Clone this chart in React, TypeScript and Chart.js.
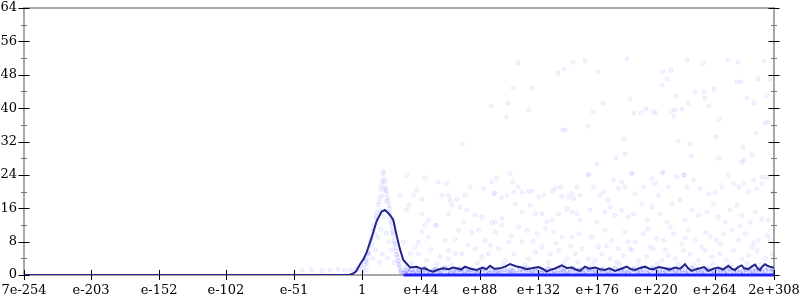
import { useEffect, useRef } from "react";
import { Chart, registerables } from "chart.js";

Chart.register(...registerables);

// x axis is log10 of the value: 7e-254 .. 2e+308
const X_MIN = -253.155;
const X_MAX = 308.301;
const xTickValues = [X_MIN, -203, -152, -102, -51, 0, 44, 88, 132, 176, 220, 264, X_MAX];
const xTickLabels = ["7e-254", "e-203", "e-152", "e-102", "e-51", "1", "e+44", "e+88", "e+132", "e+176", "e+220", "e+264", "2e+308"];
const Y_MAX = 64;
const Y_STEP = 8;

// dark mean line
const meanX = [X_MIN, -10, -7, -4.5, -1.6, 1, 3.4, 7.1, 10.9, 14.6, 17.1, 20.8, 23.3, 25.8, 28.3, 30.8, 35.8, 40.8, 44, 47, 50, 53, 57, 60.5, 65, 68, 70.8, 74, 77, 81, 85.7, 90, 93, 95.7, 99, 103.2, 107, 110.7, 115, 119.4, 123, 126.9, 132, 135, 138.1, 141, 144, 149.4, 153, 156.9, 160, 163.1, 166.8, 170, 174.3, 178, 181.8, 185, 189.3, 194, 198, 201, 204.3, 208, 211.7, 215, 218, 222, 226.7, 230, 234.2, 238, 241.7, 244, 246.7, 250, 252.9, 256, 259.1, 263, 266.6, 270, 274.1, 276.5, 279.1, 281.5, 284.1, 286, 289.1, 291.5, 294.1, 296, 297.8, 299.5, 301.6, 303.5, 305.3, 308.3];
const meanY = [0, 0, 0.3, 0.9, 2.6, 3.8, 5.5, 9.0, 13.0, 15.2, 15.6, 14.4, 13.2, 9.5, 6.2, 3.6, 1.8, 2.0, 1.5, 1.6, 1.1, 0.8, 1.3, 1.6, 1.4, 1.8, 1.6, 1.3, 2.0, 1.5, 1.2, 1.7, 1.4, 2.2, 1.5, 1.6, 2.0, 2.6, 2.1, 1.8, 1.4, 1.6, 1.9, 1.5, 0.8, 1.3, 1.5, 2.3, 1.7, 1.8, 1.3, 1.0, 2.0, 1.5, 1.8, 1.4, 1.2, 1.6, 1.0, 1.5, 2.0, 1.4, 1.2, 1.7, 2.0, 1.5, 1.4, 1.9, 1.6, 1.3, 1.8, 1.5, 2.6, 1.6, 1.0, 1.4, 1.6, 1.9, 1.0, 1.5, 1.8, 1.3, 2.2, 1.5, 1.2, 1.9, 2.3, 1.6, 1.4, 2.0, 2.5, 1.6, 1.2, 2.0, 2.6, 2.2, 2.0, 1.7];

// run of samples that are exactly zero
const zeroRunX = [31, 308.3];

// faint samples: [log10 value, count]
const peakPoints: [number, number][] = [
  [0, 0.5], [1, 1.5], [2, 2.5], [3, 3.8], [4, 5], [5, 6.5], [6, 7.8], [7, 9], [8, 10.5], [9, 12], [10, 13.5], [11, 15], [12, 16.8], [13, 18.5], [14, 20.5], [15, 22.5], [15.6, 24.2],
  [16.5, 23], [17.5, 21], [18.5, 19.5], [19.5, 17.6], [20.5, 15.8], [21.5, 13.5], [22.5, 11.5], [23.5, 9.5], [24.5, 7.5], [25.5, 5.8], [26.5, 4.2], [27.5, 2.6], [28.5, 1.4], [29.5, 0.6],
  [2.5, 3.2], [4.5, 5.5], [6.5, 8.5], [8.5, 11], [10.5, 14], [12.5, 17.5], [14.5, 21.5], [16, 24.8], [17, 22.3], [18, 20.2], [19, 18.5], [20, 16.6], [21, 14.6], [22, 12.4], [23, 10.4], [24, 8.3], [25, 6.5], [26, 5], [27, 3.3], [28, 2], [29, 1],
  [3.5, 2.6], [5.5, 5], [7.5, 7.2], [9.5, 9.8], [11.5, 12.6], [13.5, 15.4], [15.2, 19], [16.8, 20.5], [18.2, 17.8], [19.8, 15.2], [21.2, 12.8], [22.8, 10.2], [24.2, 7.6], [25.8, 4.8], [27.2, 2.4], [28.8, 0.8],
  [10, 6], [12, 9], [14, 11], [16, 14], [18, 10], [20, 8], [15, 5], [22, 6], [8, 4], [19, 4], [13, 3], [24, 3],
];
const nearZeroLeft: [number, number][] = [
  [-45, 1.1], [-38, 1.3], [-30, 1.0], [-24, 1.2], [-18, 1.4], [-13, 1.1], [-9, 1.2], [-6, 1.0], [-4, 1.3], [-2.5, 1.6], [-1, 2.2], [3.5, 3.6], [4.5, 5.2], [3, 1.2],
];
const bandPoints: [number, number][] = [
  [28.35, 19.1], [33.35, 23.9], [38.35, 19.1], [40.85, 20.3], [44.6, 18.1], [47.1, 23.3], [57.1, 22.3], [63.35, 21.9], [59.6, 19.1], [64.6, 19.1], [65.85, 17.9], [67.1, 16.7], [70.85, 18.1], [77.1, 19.1], [80.85, 21.1], [90.85, 20.7], [97.1, 22.3], [100.85, 23.3], [98.35, 19.5], [99.6, 19.7], [104.6, 18.5], [108.35, 19.1], [110.85, 24.3], [112.6, 22.3], [113.35, 19.9], [116.6, 21.1], [119.6, 19.9], [124.6, 20.1], [127.1, 20.1], [132.1, 18.7], [135.85, 19.1], [142.1, 20.1], [144.6, 20.7], [148.35, 21.1], [149.6, 18.9], [154.6, 18.7], [157.1, 19.5], [158.35, 18.3], [160.85, 21.1], [163.35, 19.1],
  [33.35, 15.5], [34.6, 16.7], [44.6, 14.7], [49.6, 13.1], [54.6, 11.9], [64.6, 14.7], [73.35, 16.3], [78.35, 15.5], [84.6, 14.3], [89.6, 13.9], [97.1, 12.5], [99.6, 12.7], [104.6, 13.5], [114.6, 17.1], [119.6, 15.1], [125.85, 16.7], [129.6, 14.7], [134.6, 14.7], [138.35, 12.7], [142.1, 13.1], [147.1, 14.7], [153.35, 15.9], [157.1, 15.1], [160.85, 14.7], [163.35, 13.1],
  [30.85, 7.9], [35.85, 5.1], [39.6, 6.7], [42.1, 7.9], [44.6, 10.3], [47.1, 11.9], [49.6, 9.1], [55.85, 11.9], [62.1, 8.3], [64.6, 5.9], [69.6, 8.7], [72.1, 10.7], [75.85, 12.7], [82.1, 10.1], [87.1, 10.7], [92.1, 8.3], [99.6, 10.3], [104.6, 11.9], [109.6, 7.9], [117.1, 11.5], [123.35, 10.7], [130.85, 9.9], [137.1, 11.1], [143.35, 10.3], [149.6, 9.1], [157.1, 9.1], [162.1, 9.9],
  [27.1, 3.5], [32.1, 1.9], [42.1, 5.1], [48.35, 3.5], [55.85, 2.7], [64.6, 3.9], [69.6, 5.1], [74.6, 5.1], [84.6, 6.3], [89.6, 4.3], [94.6, 5.1], [102.1, 6.3], [107.1, 3.5], [113.35, 5.1], [119.6, 7.9], [124.6, 3.9], [129.6, 5.5], [134.6, 6.7], [140.85, 5.1], [147.1, 5.9], [153.35, 3.9], [159.6, 5.1], [164.6, 6.3],
  [37, 2.8], [51.5, 6.1], [58.2, 4.4], [67, 2.5], [79.5, 7.2], [86.3, 2.9], [96, 7.1], [105.5, 2.6], [111.8, 9.4], [121.7, 2.4], [128, 8.1], [139.5, 3.0], [145.2, 7.6], [151.4, 2.7], [156, 6.9], [161.5, 3.2],
  [169.3, 23.9], [173.05, 21.1], [178.05, 19.1], [180.55, 19.9], [184.3, 17.9], [188.05, 22.7], [191.8, 20.7], [194.3, 22.3], [196.8, 21.1], [201.8, 24.3], [204.3, 19.5], [210.55, 21.1], [216.8, 23.1], [219.3, 21.9], [221.8, 19.1], [225.55, 24.7], [229.3, 21.1], [235.55, 23.5], [240.55, 23.9], [243.05, 21.1], [248.05, 22.7], [253.05, 20.7], [259.3, 19.5], [264.3, 19.9], [269.3, 21.1], [274.3, 23.9], [278.05, 21.9], [281.8, 21.1], [285.55, 21.9], [289.3, 19.9], [293.05, 22.7], [295.55, 20.7], [299.3, 21.9], [303.05, 23.5], [306.8, 19.9],
  [170.55, 15.5], [175.55, 12.7], [181.8, 15.1], [185.55, 16.3], [189.3, 14.3], [194.3, 15.5], [199.3, 13.9], [203.05, 14.7], [209.3, 17.1], [213.05, 13.1], [216.8, 16.3], [223.05, 14.7], [228.05, 12.7], [231.8, 17.1], [238.05, 17.9], [241.8, 13.1], [246.8, 15.5], [251.8, 14.3], [258.05, 15.1], [263.05, 17.1], [266.8, 13.9], [271.8, 12.7], [275.55, 15.5], [280.55, 16.7], [284.3, 14.3], [290.55, 12.7], [294.3, 15.1], [299.3, 13.5], [304.3, 13.1],
  [171.8, 9.1], [176.8, 6.7], [181.8, 10.7], [186.8, 8.3], [191.8, 6.3], [196.8, 10.3], [200.55, 6.3], [204.3, 7.9], [210.55, 9.9], [215.55, 6.7], [220.55, 8.7], [225.55, 8.3], [230.55, 11.5], [233.05, 9.9], [239.3, 7.5], [244.3, 10.7], [249.3, 8.3], [254.3, 6.7], [260.55, 9.1], [265.55, 8.3], [270.55, 9.9], [276.8, 10.7], [281.8, 8.3], [286.8, 9.9], [291.8, 6.7], [296.8, 8.3], [303.05, 9.5],
  [169.3, 3.9], [174.3, 3.5], [179.3, 5.1], [185.55, 3.9], [190.55, 3.1], [195.55, 4.7], [201.8, 5.9], [206.8, 3.5], [213.05, 4.3], [218.05, 6.3], [224.3, 3.5], [229.3, 4.7], [234.3, 3.9], [240.55, 5.9], [245.55, 5.1], [251.8, 3.5], [256.8, 5.9], [261.8, 4.3], [267.8, 5.1], [272.8, 3.5], [278.05, 5.9], [284.3, 3.9], [289.3, 4.7], [295.55, 5.9], [301.8, 3.9], [306.8, 5.1],
  [172, 2.4], [183, 7.0], [192.5, 2.6], [199, 8.0], [207.5, 2.2], [214, 11.0], [221, 2.7], [227, 6.0], [236.5, 2.5], [242, 8.9], [248.5, 2.3], [257.5, 10.2], [262.5, 2.6], [268.5, 7.3], [276, 2.4], [283, 11.8], [288, 2.8], [293, 7.7], [298.5, 2.5], [305, 8.6],
];
const upperPoints: [number, number][] = [
  [116.7, 50.8], [146.6, 48.4], [151, 49.4], [158, 51], [113, 44.8], [127, 44.8], [96.5, 40.5], [109, 41.2], [125, 39.6], [108, 37.9], [150, 34.8], [75, 31.4], [152, 34.7],
  [198.2, 51.8], [243.2, 51.5], [255.1, 50.8], [273.9, 51.5], [281.3, 51], [300.8, 51.3], [166.8, 51.3], [176.5, 48.7], [225.2, 48.7], [231.2, 49.1], [228.2, 47], [224.4, 45.5], [280.6, 46.3], [283.6, 46.3], [296.3, 47], [305.3, 47],
  [288.1, 42.4], [293.3, 41.2], [303.1, 43.1], [249.2, 43.9], [255.9, 43.9], [256.6, 42.4], [263.4, 44.6], [259.6, 40.5], [234.9, 42.9], [243.9, 41.2], [200.5, 42.2], [180.3, 41.2], [203.5, 38.8], [208.7, 38.8], [212.5, 39.8], [217.7, 39.1], [220, 38.8], [231.2, 39.3], [234.2, 39.6], [239.4, 39.8], [233.4, 38.1], [172.8, 39.1], [169, 35.7],
  [267.1, 37.4], [303.8, 36.7], [301.5, 36.4], [294.8, 34], [196, 32.6], [236.4, 32.1], [245.4, 31.4], [264.9, 33.1], [285.1, 30.7], [291.8, 28.8], [285.8, 27.6], [190, 28], [196.8, 29], [175.8, 26.6], [246.2, 28.5], [267.1, 28], [284.3, 27.1], [299.3, 23.5], [224.4, 24.4], [202, 24.4], [169.8, 24.2], [240.9, 24],
];
const lowPoints: [number, number][] = [
  [31.5, 0.4], [33, 1.1], [35.2, 0.7], [36.8, 1.4], [38.4, 0.3], [40.1, 0.9], [42.6, 1.2], [44.2, 0.6], [46.9, 1.5], [48.3, 0.8], [51, 0.4], [53.4, 1.0], [55.1, 1.3], [57.7, 0.5], [59.2, 0.9], [61.8, 1.6], [64, 0.7], [66.3, 0.3], [68.5, 1.2], [70.2, 0.8],
  [72.9, 1.4], [74.6, 0.5], [77, 1.0], [79.4, 0.6], [81.1, 1.3], [83.8, 0.9], [86.2, 0.4], [88, 1.1], [90.5, 1.5], [92.7, 0.7], [95.3, 0.3], [97.1, 1.2], [99.8, 0.8], [101.6, 1.0], [104.2, 0.5], [106.5, 1.4], [108.9, 0.6], [111.3, 1.1], [113, 0.9], [115.6, 0.3],
  [118.1, 1.3], [120.4, 0.7], [122.9, 1.5], [125.2, 0.5], [127.4, 1.0], [129.9, 0.8], [132.5, 1.2], [134.1, 0.4], [136.8, 0.9], [139.2, 1.4], [141.5, 0.6], [143.7, 1.1], [146.3, 0.3], [148.8, 1.3], [150.4, 0.8], [153.1, 1.0], [155.6, 0.5], [157.9, 1.5], [160.2, 0.7], [162.7, 1.2],
  [165, 0.4], [167.4, 0.9], [169.9, 1.4], [172.3, 0.6], [174.6, 1.1], [177, 0.8], [179.5, 1.3], [181.7, 0.3], [184.2, 1.0], [186.6, 0.7], [189.1, 1.5], [191.4, 0.5], [193.8, 1.2], [196.3, 0.9], [198.5, 0.4], [201, 1.1], [203.4, 1.4], [205.9, 0.6], [208.1, 0.8], [210.6, 1.3],
  [213, 0.3], [215.5, 1.0], [217.8, 1.6], [220.3, 0.7], [222.7, 1.2], [225, 0.5], [227.4, 0.9], [229.9, 1.4], [232.2, 0.6], [234.6, 1.1], [237.1, 0.8], [239.5, 1.3], [241.8, 0.4], [244.2, 1.0], [246.7, 1.5], [249, 0.7], [251.4, 1.2], [253.9, 0.5], [256.2, 0.9], [258.6, 1.4],
  [261.1, 0.3], [263.4, 1.1], [265.8, 0.8], [268.3, 1.3], [270.6, 0.6], [273, 1.0], [275.5, 1.5], [277.8, 0.7], [280.2, 1.2], [282.7, 0.4], [285, 0.9], [287.4, 1.4], [289.9, 0.6], [292.2, 1.1], [294.6, 0.8], [297.1, 1.3], [299.4, 0.5], [301.8, 1.0], [304.3, 1.6], [306.6, 0.7], [308, 1.2],
];

const FONT = "'DejaVu Serif', serif";

const framePlugin = {
  id: "frame",
  beforeDatasetsDraw(chart: any) {
    const { ctx, chartArea, scales } = chart;
    const { left, right, top, bottom } = chartArea;
    const x = scales.x;
    const y = scales.y;
    ctx.save();
    ctx.strokeStyle = "#a8a8a8";
    ctx.lineWidth = 2;
    ctx.beginPath();
    ctx.moveTo(left, bottom);
    ctx.lineTo(left, top);
    ctx.lineTo(right, top);
    ctx.lineTo(right, bottom);
    ctx.closePath();
    ctx.stroke();
    ctx.lineWidth = 1;
    const majors = y.ticks.map((t: any) => t.value);
    majors.forEach((v: number, i: number) => {
      const py = Math.round(y.getPixelForValue(v)) + 0.5;
      ctx.strokeStyle = "#000";
      ctx.beginPath();
      ctx.moveTo(left - 5.5, py);
      ctx.lineTo(left + 5.5, py);
      ctx.moveTo(right - 5.5, py);
      ctx.lineTo(right + 5.5, py);
      ctx.stroke();
      if (i < majors.length - 1) {
        const pm = Math.round(y.getPixelForValue((v + majors[i + 1]) / 2)) + 0.5;
        ctx.strokeStyle = "#777";
        ctx.beginPath();
        ctx.moveTo(left - 3, pm);
        ctx.lineTo(left + 3, pm);
        ctx.moveTo(right - 3, pm);
        ctx.lineTo(right + 3, pm);
        ctx.stroke();
      }
    });
    ctx.strokeStyle = "#000";
    x.ticks.forEach((t: any) => {
      const px = Math.round(x.getPixelForValue(t.value)) + 0.5;
      ctx.beginPath();
      ctx.moveTo(px, bottom - 5);
      ctx.lineTo(px, bottom + 5);
      ctx.stroke();
    });
    ctx.restore();
  },
};

export default function App() {
  const ref = useRef<HTMLCanvasElement>(null);
  useEffect(() => {
    document.body.style.margin = "0";
    const cloud = [...peakPoints, ...nearZeroLeft, ...bandPoints, ...upperPoints].map(([x, y]) => ({ x, y }));
    const low = lowPoints.map(([x, y]) => ({ x, y }));
    const mean = meanX.map((x, i) => ({ x, y: meanY[i] }));
    const zeros = zeroRunX.map((x) => ({ x, y: 0 }));
    const chart = new Chart(ref.current as HTMLCanvasElement, {
      type: "scatter",
      data: {
        datasets: [
          {
            type: "scatter",
            data: cloud,
            pointRadius: 2,
            pointBackgroundColor: "rgba(0,0,255,0.04)",
            pointBorderColor: "rgba(0,0,255,0.075)",
            pointBorderWidth: 1,
            order: 4,
          } as any,
          {
            type: "scatter",
            data: low,
            pointRadius: 2.5,
            pointBackgroundColor: "rgba(0,0,255,0.12)",
            pointBorderColor: "rgba(0,0,255,0.14)",
            pointBorderWidth: 1,
            order: 3,
          } as any,
          {
            type: "line",
            data: zeros,
            borderColor: "rgba(25,25,255,0.95)",
            borderWidth: 3,
            pointRadius: 0,
            clip: false,
            order: 2,
          } as any,
          {
            type: "line",
            data: mean,
            borderColor: "#23238c",
            borderWidth: 2,
            pointRadius: 0,
            tension: 0,
            order: 1,
          } as any,
        ],
      },
      options: {
        animation: false,
        responsive: false,
        events: [],
        layout: { padding: { top: 8, right: 26, left: 0, bottom: 0 } },
        plugins: { legend: { display: false }, tooltip: { enabled: false } },
        scales: {
          x: {
            type: "linear",
            min: X_MIN,
            max: X_MAX,
            afterBuildTicks: (scale: any) => {
              scale.ticks = xTickValues.map((v) => ({ value: v }));
            },
            afterFit: (scale: any) => {
              scale.height = 25;
            },
            grid: { display: false, drawTicks: true, tickLength: 8 },
            border: { display: false },
            ticks: {
              autoSkip: false,
              maxRotation: 0,
              padding: 0,
              color: "#000",
              font: { family: FONT, size: 13 },
              callback: (_v: any, i: number) => xTickLabels[i],
            },
          },
          y: {
            type: "linear",
            min: 0,
            max: Y_MAX,
            afterFit: (scale: any) => {
              scale.width = 24;
            },
            grid: { display: false, drawTicks: true, tickLength: 7 },
            border: { display: false },
            ticks: {
              stepSize: Y_STEP,
              padding: 0,
              color: "#000",
              font: { family: FONT, size: 13 },
            },
          },
        },
      } as any,
      plugins: [framePlugin],
    });
    return () => chart.destroy();
  }, []);
  return (
    <div style={{ width: 800, height: 300 }}>
      <canvas ref={ref} width={800} height={300} style={{ display: "block" }} />
    </div>
  );
}
